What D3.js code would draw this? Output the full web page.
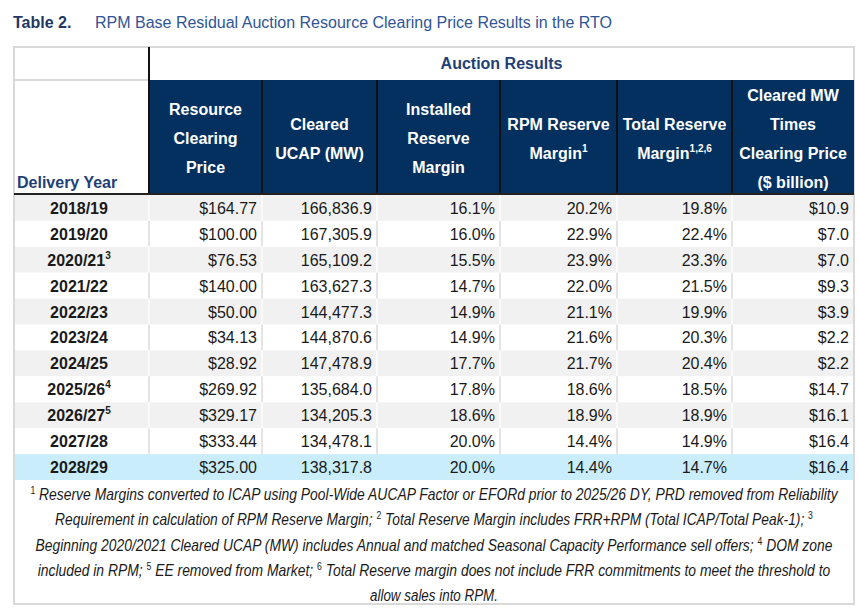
<!DOCTYPE html>
<html>
<head>
<meta charset="utf-8">
<script src="https://cdn.jsdelivr.net/npm/d3@7"></script>
<style>
  body { margin: 0; background: #fff; }
  svg text { font-family: "Liberation Sans", Arial, sans-serif; }
  svg text.foot { font-family: "Liberation Sans Narrow", "Arial Narrow", "Liberation Sans", sans-serif; font-style: italic; }
</style>
</head>
<body>
<div id="chart"></div>
<script>
// table data
const years = ["2018/19", "2019/20", "2020/21", "2021/22", "2022/23", "2023/24", "2024/25", "2025/26", "2026/27", "2027/28", "2028/29"];
const yearNotes = ["", "", "3", "", "", "", "", "4", "5", "", ""];
const clearingPrice = [164.77, 100.00, 76.53, 140.00, 50.00, 34.13, 28.92, 269.92, 329.17, 333.44, 325.00];
const clearedUcap = [166836.9, 167305.9, 165109.2, 163627.3, 144477.3, 144870.6, 147478.9, 135684.0, 134205.3, 134478.1, 138317.8];
const installedMargin = [16.1, 16.0, 15.5, 14.7, 14.9, 14.9, 17.7, 17.8, 18.6, 20.0, 20.0];
const rpmMargin = [20.2, 22.9, 23.9, 22.0, 21.1, 21.6, 21.7, 18.6, 18.9, 14.4, 14.4];
const totalMargin = [19.8, 22.4, 23.3, 21.5, 19.9, 20.3, 20.4, 18.5, 18.9, 14.9, 14.7];
const clearedTimesPrice = [10.9, 7.0, 7.0, 9.3, 3.9, 2.2, 2.2, 14.7, 16.1, 16.4, 16.4];

const columnKeys = ["year", "price", "ucap", "installed", "rpm", "total", "billion"];
// header lines per column, [text, superscript]
const headerLines = {
    price: [["Resource"], ["Clearing"], ["Price"]],
    ucap: [["Cleared"], ["UCAP (MW)"]],
    installed: [["Installed"], ["Reserve"], ["Margin"]],
    rpm: [["RPM Reserve"], ["Margin", "1"]],
    total: [["Total Reserve"], ["Margin", "1,2,6"]],
    billion: [["Cleared MW"], ["Times"], ["Clearing Price"], ["($ billion)"]]
};
const footnoteLines = [
    [["1", true], [" Reserve Margins converted to ICAP using Pool-Wide AUCAP Factor or EFORd prior to 2025/26 DY, PRD removed from Reliability"]],
    [["Requirement in calculation of RPM Reserve Margin; "], ["2", true], [" Total Reserve Margin includes FRR+RPM (Total ICAP/Total Peak-1); "], ["3", true]],
    [["Beginning 2020/2021 Cleared UCAP (MW) includes Annual and matched Seasonal Capacity Performance sell offers; "], ["4", true], [" DOM zone"]],
    [["included in RPM; "], ["5", true], [" EE removed from Market; "], ["6", true], [" Total Reserve margin does not include FRR commitments to meet the threshold to"]],
    [["allow sales into RPM."]]
];
const footnoteWidths = [808, 758, 797, 793, 128];

const W = 858, H = 609;
const tblLeft = 14, tblRight = 854;
const tblTop = 47, headTop = 80, headBottom = 194, bodyBottom = 480, footBottom = 604;
const navy = "#04305f";

const svg = d3.select("#chart").append("svg")
    .attr("width", W).attr("height", H);

// column edges
const edges = [14, 149, 262, 377, 500, 617, 732, tblRight];
const colX = d3.scaleOrdinal().domain(columnKeys).range(edges.slice(0, -1));
const colW = d3.scaleOrdinal().domain(columnKeys).range(d3.range(columnKeys.length).map(i => edges[i + 1] - edges[i]));
const yScale = d3.scaleBand().domain(years).range([headBottom + 1, bodyBottom]);

// title
const title = svg.append("text").attr("x", 13).attr("y", 28).style("font-size", "16px");
title.append("tspan").attr("fill", "#1f3864").attr("font-weight", "bold").text("Table 2.");
title.append("tspan").attr("x", 95).attr("fill", "#2f5597").text("RPM Base Residual Auction Resource Clearing Price Results in the RTO");

// outer frame
svg.append("rect")
    .attr("x", tblLeft).attr("y", tblTop).attr("width", tblRight - tblLeft).attr("height", footBottom - tblTop)
    .attr("fill", "#fff").attr("stroke", "#d9d9d9").attr("stroke-width", 2);

// "Auction Results" band
svg.append("line").attr("x1", tblLeft).attr("x2", colX("price")).attr("y1", headTop).attr("y2", headTop)
    .attr("stroke", "#d9d9d9").attr("stroke-width", 2);
svg.append("text")
    .attr("x", (colX("price") + tblRight) / 2).attr("y", 69)
    .attr("text-anchor", "middle").attr("fill", "#1f3f77")
    .style("font-size", "16px").style("font-weight", "bold")
    .text("Auction Results");

// navy header cells
const dataCols = columnKeys.slice(1);
svg.selectAll(".headCell").data(dataCols).join("rect")
    .attr("class", "headCell")
    .attr("x", d => colX(d)).attr("y", headTop)
    .attr("width", d => colW(d)).attr("height", headBottom - headTop)
    .attr("fill", navy);

svg.selectAll(".headSep").data(dataCols.slice(1)).join("line")
    .attr("class", "headSep")
    .attr("x1", d => colX(d)).attr("x2", d => colX(d))
    .attr("y1", headTop).attr("y2", headBottom)
    .attr("stroke", "#111").attr("stroke-width", 2);

svg.append("line").attr("x1", colX("price")).attr("x2", colX("price")).attr("y1", tblTop).attr("y2", headBottom)
    .attr("stroke", "#111").attr("stroke-width", 2);

// header labels
dataCols.forEach(key => {
    const lines = headerLines[key];
    const step = 29;
    const cx = colX(key) + colW(key) / 2;
    const midY = (headTop + headBottom) / 2 + 1;
    const y0 = midY - (lines.length - 1) * step / 2 + 6;
    lines.forEach((ln, i) => {
        const t = svg.append("text")
            .attr("x", cx).attr("y", y0 + i * step)
            .attr("text-anchor", "middle").attr("fill", "#fff")
            .style("font-size", "16px").style("font-weight", "bold");
        t.append("tspan").text(ln[0]);
        if (ln[1]) t.append("tspan").attr("dy", -7).style("font-size", "10px").text(ln[1]);
    });
});

svg.append("text")
    .attr("x", 17).attr("y", 188).attr("fill", "#1f3f77")
    .style("font-size", "16px").style("font-weight", "bold")
    .text("Delivery Year");

// body rows
const rows = years.map((y, i) => ({
    year: y, note: yearNotes[i], i: i,
    price: d3.format("$,.2f")(clearingPrice[i]),
    ucap: d3.format(",.1f")(clearedUcap[i]),
    installed: d3.format(".1f")(installedMargin[i]) + "%",
    rpm: d3.format(".1f")(rpmMargin[i]) + "%",
    total: d3.format(".1f")(totalMargin[i]) + "%",
    billion: "$" + d3.format(".1f")(clearedTimesPrice[i])
}));
const last = years.length - 1;
const rowFill = d => d.i === last ? "#c9edfb" : (d.i % 2 === 0 ? "#f1f1f1" : "#fff");

const rowG = svg.selectAll(".rowG").data(rows).join("g")
    .attr("class", "rowG")
    .attr("transform", d => "translate(0," + yScale(d.year) + ")");

rowG.append("rect")
    .attr("x", tblLeft + 1).attr("width", tblRight - tblLeft - 2)
    .attr("height", yScale.bandwidth())
    .attr("fill", rowFill);

rowG.each(function (d) {
    if (d.i === last) return;
    d3.select(this).selectAll(".sep").data(dataCols).join("line")
        .attr("class", "sep")
        .attr("x1", k => colX(k)).attr("x2", k => colX(k))
        .attr("y1", 0).attr("y2", yScale.bandwidth())
        .attr("stroke", d.i % 2 === 0 ? "#fafafa" : "#e4e4e4").attr("stroke-width", 2);
});

const yearText = rowG.append("text")
    .attr("x", 79).attr("y", yScale.bandwidth() / 2 + 6)
    .attr("text-anchor", "middle").attr("fill", "#1a1a1a")
    .style("font-size", "16px").style("font-weight", "bold");
yearText.append("tspan").text(d => d.year);
yearText.filter(d => d.note).append("tspan").attr("dy", -7).style("font-size", "10px").text(d => d.note);

dataCols.forEach(key => {
    rowG.append("text")
        .attr("x", colX(key) + colW(key) - 5)
        .attr("y", yScale.bandwidth() / 2 + 6)
        .attr("text-anchor", "end").attr("fill", "#1a1a1a")
        .style("font-size", "16px")
        .text(d => d[key]);
});

// header bottom rule
svg.append("line").attr("x1", tblLeft).attr("x2", tblRight).attr("y1", headBottom).attr("y2", headBottom)
    .attr("stroke", "#222").attr("stroke-width", 2);

// footnotes: drawn at natural width, then squeezed horizontally to the reference width
const footY = d3.scaleLinear().domain([0, 4]).range([500, 601]);
footnoteLines.forEach((segs, i) => {
    const g = svg.append("g");
    const t = g.append("text")
        .attr("class", "foot")
        .attr("x", 0).attr("y", 0)
        .attr("text-anchor", "middle").attr("fill", "#1a1a1a")
        .style("font-size", "16px");
    let raised = false;
    segs.forEach(s => {
        if (s[1]) {
            t.append("tspan").attr("dy", raised ? 0 : -6).style("font-size", "10px").style("font-style", "normal").text(s[0]);
            raised = true;
        } else {
            t.append("tspan").attr("dy", raised ? 6 : 0).text(s[0]);
            raised = false;
        }
    });
    const natural = t.node().getComputedTextLength();
    const k = Math.min(1, footnoteWidths[i] / natural);
    g.attr("transform", "translate(434," + footY(i) + ") scale(" + k + ",1)");
});
</script>
</body>
</html>
